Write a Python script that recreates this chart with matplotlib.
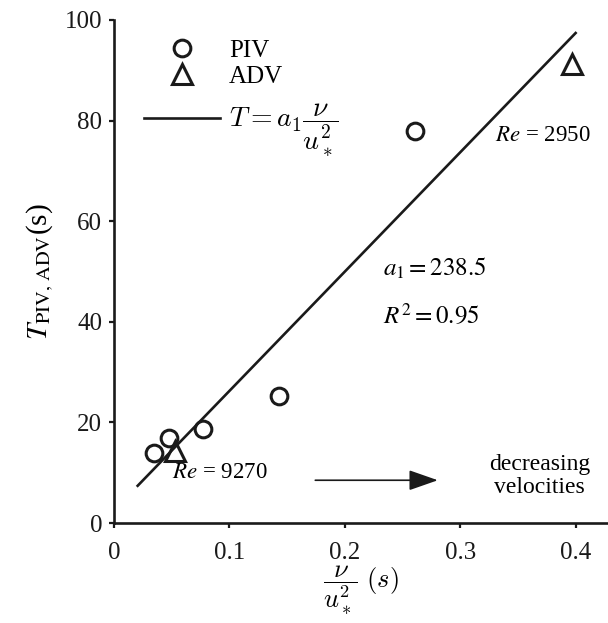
import matplotlib
matplotlib.use("Agg")
import matplotlib.pyplot as plt

plt.rcParams['font.family'] = ['Liberation Serif', 'DejaVu Serif']
plt.rcParams['mathtext.fontset'] = 'stix'
plt.rcParams['font.size'] = 18

# data
piv_x = [0.035, 0.048, 0.077, 0.143, 0.261]
piv_y = [13.9, 16.9, 18.7, 25.3, 78.0]
adv_x = [0.053, 0.397]
adv_y = [14.3, 91.3]
fit_x = [0.0205, 0.400]
fit_y = [7.4, 97.4]

fig = plt.figure(figsize=(6.08, 6.23), dpi=100)
ax = fig.add_axes([0.1875, 0.1605, 0.8105, 0.8075])

fit_line, = ax.plot(fit_x, fit_y, color='#1a1a1a', lw=1.9)
piv_pts, = ax.plot(piv_x, piv_y, 'o', ms=12, mfc='none', mec='#1a1a1a', mew=2.2)
adv_pts, = ax.plot(adv_x, adv_y, '^', ms=14, mfc='none', mec='#1a1a1a', mew=2.2)

ax.set_xlim(0, 0.427)
ax.set_ylim(0, 100)
ax.set_xticks([0, 0.1, 0.2, 0.3, 0.4])
ax.set_xticklabels(['0', '0.1', '0.2', '0.3', '0.4'])
ax.set_yticks([0, 20, 40, 60, 80, 100])

for s in ['top', 'right']:
    ax.spines[s].set_visible(False)
for s in ['left', 'bottom']:
    ax.spines[s].set_linewidth(1.9)
    ax.spines[s].set_color('#1a1a1a')
ax.tick_params(direction='out', length=3.5, width=1.6, colors='#1a1a1a', pad=5)
ax.tick_params(axis='x', pad=10)

ax.set_xlabel(r'$\dfrac{\nu}{u_*^2}\ (s)$', math_fontfamily='cm', labelpad=0, fontsize=19)
ax.set_ylabel(r'$T_{\mathrm{PIV,\,ADV}}$(s)', labelpad=6, fontsize=21)

# legend: markers, then the fit line a bit further down
leg1 = ax.legend([piv_pts, adv_pts], ['PIV', 'ADV'],
                 loc='upper left', bbox_to_anchor=(0.0487, 0.971), frameon=False,
                 handlelength=3.1, handletextpad=0.35, labelspacing=0.12,
                 borderaxespad=0.0, borderpad=0.2, prop={'size': 18})
ax.add_artist(leg1)
leg2 = ax.legend([fit_line], [r'$T = a_1\dfrac{\nu}{u_*^2}$'],
                 loc='center left', bbox_to_anchor=(0.0487, 0.78), frameon=False,
                 handlelength=2.77, handletextpad=0.3,
                 borderaxespad=0.0, borderpad=0.2, prop={'size': 20})
leg2.get_texts()[0].set_math_fontfamily('cm')

ax.text(0.233, 50.7, r'$a_1 = 238.5$', va='center', ha='left')
ax.text(0.233, 41.2, r'$R^2 = 0.95$', va='center', ha='left')
ax.text(0.330, 77.1, r'$Re$ = 2950', va='center', ha='left', fontsize=16.5)
ax.text(0.050, 10.1, r'$Re$ = 9270', va='center', ha='left', fontsize=16.5)

ax.annotate('', xy=(0.283, 8.5), xytext=(0.172, 8.5),
            arrowprops=dict(arrowstyle='-|>,head_length=1.0,head_width=0.35',
                            color='#1a1a1a', lw=1.2))
ax.text(0.369, 9.3, 'decreasing\nvelocities', ha='center', va='center',
        linespacing=1.15, fontsize=17)

fig.savefig('out.png', dpi=100)
